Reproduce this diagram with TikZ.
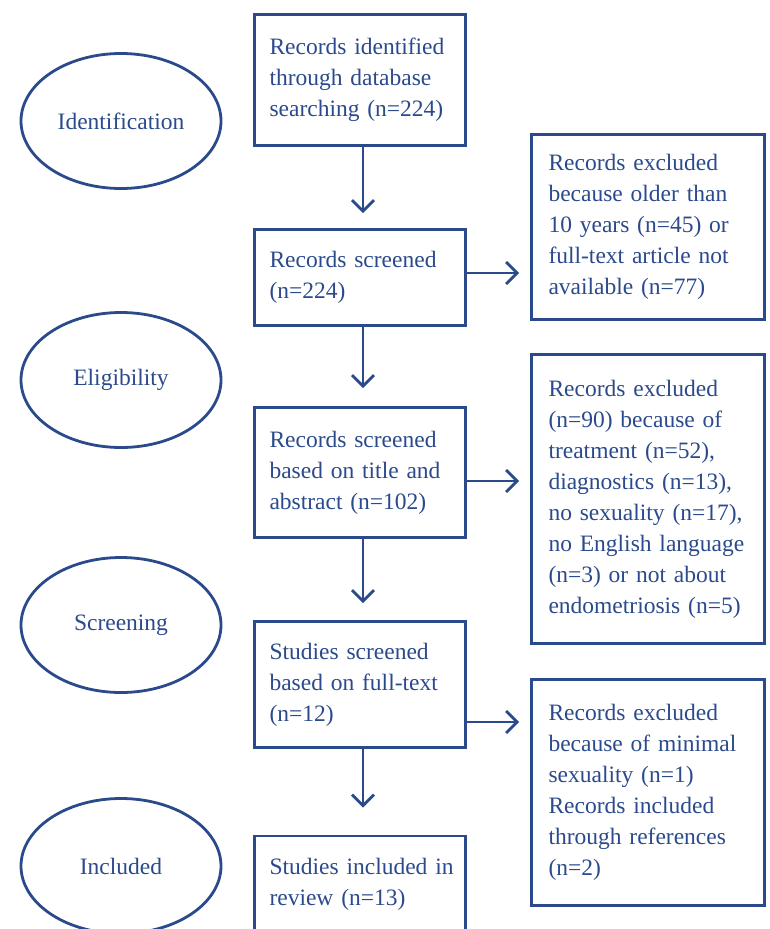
\documentclass[tikz,border=0pt]{standalone}
\usepackage{fontspec}
\setmainfont{Liberation Serif}
\usetikzlibrary{arrows.meta,shapes.geometric}
\definecolor{navy}{RGB}{43,74,140}
\begin{document}
\begin{tikzpicture}[x=1pt,y=-1pt,
  every node/.style={font=\fontsize{23.5}{31}\selectfont, text=navy},
  lbox/.style={draw=navy, line width=2.8pt, rectangle, minimum width=211pt,
               text width=181pt, inner xsep=15pt, inner ysep=0pt, align=left},
  rbox/.style={draw=navy, line width=2.8pt, rectangle, minimum width=233pt,
               text width=199pt, inner xsep=17pt, inner ysep=0pt, align=left},
  phase/.style={draw=navy, line width=2.8pt, ellipse, minimum width=200pt,
                minimum height=135pt, inner sep=0pt},
  arr/.style={draw=navy, line width=2.8pt, -{Straight Barb[length=11pt,width=22pt]}}]
\useasboundingbox (0,0) rectangle (769,929);
\clip (0,0) rectangle (769,929);

% phase labels
\node[phase] (ph1) at (121,121) {Identification};
\node[phase] (ph2) at (121,380) {Eligibility};
\node[phase] (ph3) at (121,625) {Screening};
\node[phase] (ph4) at (121,866) {Included};

% main flow
\node[lbox, minimum height=131pt] (b1) at (360,80)
  {Records identified\\through database\\searching (n=224)};
\node[lbox, minimum height=96pt] (b2) at (360,277.5)
  {Records screened\\(n=224)};
\node[lbox, minimum height=130pt] (b3) at (360,472.5)
  {Records screened\\based on title and\\abstract (n=102)};
\node[lbox, minimum height=126pt] (b4) at (360,684.5)
  {Studies screened\\based on full-text\\(n=12)};
\node[lbox, minimum height=97pt] (b5) at (360,884.5)
  {\mbox{Studies included in}\\review (n=13)};

% exclusion boxes
\node[rbox, minimum height=185pt] (r1) at (648,227)
  {Records excluded\\because older than\\10 years (n=45) or\\full-text article not\\available (n=77)};
\node[rbox, minimum height=289pt] (r2) at (648,499)
  {Records excluded\\(n=90) because of\\treatment (n=52),\\diagnostics (n=13),\\no sexuality (n=17),\\no English language\\(n=3) or not about\\endometriosis (n=5)};
\node[rbox, minimum height=226pt] (r3) at (648,792.5)
  {Records excluded\\because of minimal\\sexuality (n=1)\\Records included\\through references\\(n=2)};

% vertical connectors
\draw[arr, shorten >=15pt] ([xshift=3pt]b1.south) -- ([xshift=3pt]b2.north);
\draw[arr, shorten >=18pt] ([xshift=3pt]b2.south) -- ([xshift=3pt]b3.north);
\draw[arr, shorten >=17pt] ([xshift=3pt]b3.south) -- ([xshift=3pt]b4.north);
\draw[arr, shorten >=27pt] ([xshift=3pt]b4.south) -- ([xshift=3pt]b5.north);

% horizontal connectors
\draw[arr, shorten >=11pt] ([yshift=4.5pt]b2.east) -- ([yshift=4.5pt]b2.east -| r1.west);
\draw[arr, shorten >=11pt] ([yshift=-8.5pt]b3.east) -- ([yshift=-8.5pt]b3.east -| r2.west);
\draw[arr, shorten >=11pt] ([yshift=-37.5pt]b4.east) -- ([yshift=-37.5pt]b4.east -| r3.west);
\end{tikzpicture}
\end{document}
